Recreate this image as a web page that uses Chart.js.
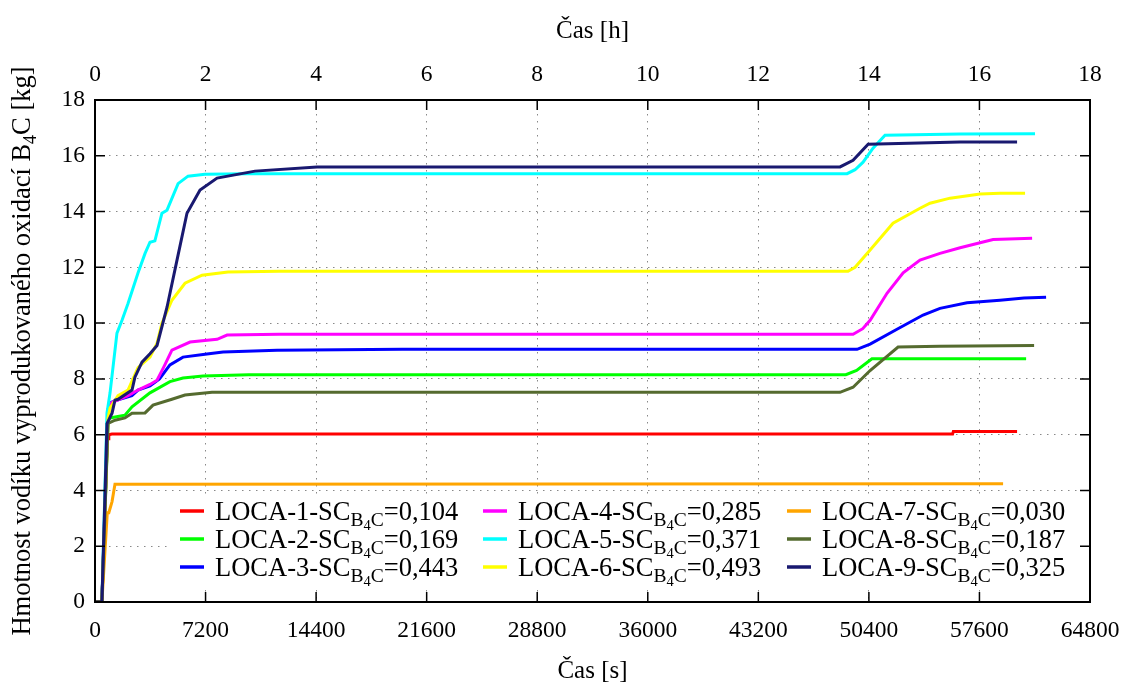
<!DOCTYPE html>
<html lang="cs">
<head>
<meta charset="UTF-8">
<title>Hmotnost vodíku - LOCA</title>
<script src="https://cdn.jsdelivr.net/npm/chart.js@4.4.1/dist/chart.umd.min.js"></script>
<style>
  html, body { margin: 0; padding: 0; background: #fff; }
  #wrap { width: 1127px; height: 686px; }
</style>
</head>
<body>
<div id="wrap"><canvas id="chart" width="1127" height="686"></canvas></div>
<script>
// series labels and SC(B4C) values for the legend
const seriesNames = ['LOCA-1', 'LOCA-2', 'LOCA-3', 'LOCA-4', 'LOCA-5', 'LOCA-6', 'LOCA-7', 'LOCA-8', 'LOCA-9'];
const scValues = ['0,104', '0,169', '0,443', '0,285', '0,371', '0,493', '0,030', '0,187', '0,325'];
const colors = ['#ff0000', '#00ff00', '#0000ff', '#ff00ff', '#00ffff', '#ffff00', '#ffa500', '#556b2f', '#191970'];

// time [s] / mass [kg]
const t1 = [0, 450, 800, 850, 900, 1100, 55850, 55900, 60050];
const m1 = [0, 0, 5.8, 5.85, 6.0, 6.02, 6.02, 6.11, 6.11];

const t2 = [0, 450, 850, 980, 1950, 2410, 3580, 4880, 5730, 7030, 10000, 48900, 49600, 50600, 60640];
const m2 = [0, 0, 6.5, 6.6, 6.7, 7.0, 7.5, 7.9, 8.03, 8.1, 8.15, 8.15, 8.3, 8.72, 8.72];

const t3 = [0, 450, 850, 1000, 1500, 2400, 2800, 3580, 4200, 4880, 5730, 7290, 8340, 11850, 20000, 49630, 50480, 52230, 53930, 55030, 56790, 58940, 60500, 61940];
const m3 = [0, 0, 6.9, 7.15, 7.25, 7.4, 7.6, 7.75, 8.0, 8.5, 8.78, 8.89, 8.96, 9.03, 9.06, 9.06, 9.25, 9.78, 10.29, 10.53, 10.73, 10.82, 10.9, 10.93];

const t4 = [0, 450, 850, 1000, 1500, 2150, 2800, 3580, 4040, 4500, 5010, 6190, 7950, 8600, 12000, 49370, 50000, 50480, 51580, 52630, 53730, 55030, 56340, 57640, 58490, 61030];
const m4 = [0, 0, 6.9, 7.13, 7.25, 7.4, 7.6, 7.8, 7.95, 8.45, 9.03, 9.32, 9.42, 9.57, 9.6, 9.6, 9.8, 10.1, 11.07, 11.8, 12.26, 12.5, 12.7, 12.88, 13.0, 13.04];

const t5 = [0, 450, 780, 980, 1430, 1760, 2150, 2800, 3260, 3580, 3900, 4360, 4690, 5410, 6060, 7160, 10000, 48980, 49500, 50020, 50670, 51450, 56340, 61220];
const m5 = [0, 0, 6.77, 7.5, 9.64, 10.1, 10.7, 11.8, 12.5, 12.9, 12.95, 13.94, 14.05, 15.0, 15.27, 15.34, 15.36, 15.36, 15.5, 15.77, 16.27, 16.74, 16.78, 16.79];

const t6 = [0, 450, 850, 980, 1500, 2150, 2800, 3580, 4040, 4360, 5010, 5860, 6970, 8660, 12000, 49040, 49500, 50480, 51970, 53730, 54380, 55690, 57640, 58940, 60570];
const m6 = [0, 0, 6.6, 6.95, 7.4, 7.6, 8.4, 8.78, 9.28, 10.0, 10.82, 11.43, 11.72, 11.83, 11.86, 11.86, 12.0, 12.62, 13.58, 14.12, 14.3, 14.48, 14.63, 14.66, 14.66];

const t7 = [0, 450, 800, 900, 1110, 1300, 59140];
const m7 = [0, 0, 3.2, 3.2, 3.6, 4.22, 4.24];

const t8 = [0, 450, 850, 1300, 1950, 2410, 3260, 3780, 5010, 5860, 7620, 20000, 48520, 49370, 50480, 52300, 55000, 61160];
const m8 = [0, 0, 6.4, 6.52, 6.6, 6.77, 6.78, 7.06, 7.27, 7.42, 7.52, 7.52, 7.52, 7.7, 8.3, 9.14, 9.17, 9.2];

const t9 = [0, 450, 780, 1110, 1300, 1500, 2410, 2600, 3060, 3580, 4040, 4690, 5340, 5990, 6840, 7950, 10420, 14460, 48520, 49370, 50350, 56340, 60050];
const m9 = [0, 0, 6.4, 6.77, 7.24, 7.27, 7.6, 8.06, 8.6, 8.9, 9.2, 10.57, 12.26, 13.94, 14.77, 15.2, 15.45, 15.6, 15.6, 15.84, 16.41, 16.49, 16.49];

const times = [t1, t2, t3, t4, t5, t6, t7, t8, t9];
const masses = [m1, m2, m3, m4, m5, m6, m7, m8, m9];

const FONT = "'Liberation Serif', 'DejaVu Serif', serif";

const datasets = seriesNames.map((name, i) => ({
    label: name,
    data: times[i].map((t, k) => ({ x: t, y: masses[i][k] })),
    borderColor: colors[i],
    backgroundColor: colors[i],
    borderWidth: 3,
    pointRadius: 0,
    tension: 0,
    fill: false,
    order: 9 - i
}));

// draws a run of text pieces (with sub/subsub scripts) starting at x, baseline y
function drawRuns(ctx, runs, x, y) {
    runs.forEach(r => {
        ctx.font = r.size + 'px ' + FONT;
        ctx.fillText(r.text, x, y + (r.dy || 0));
        x += ctx.measureText(r.text).width;
    });
    return x;
}
function runsWidth(ctx, runs) {
    let w = 0;
    runs.forEach(r => { ctx.font = r.size + 'px ' + FONT; w += ctx.measureText(r.text).width; });
    return w;
}

const framePlugin = {
    id: 'frame',
    afterDraw(chart) {
        const ctx = chart.ctx;
        const a = chart.chartArea;
        const sx = chart.scales.x, sy = chart.scales.y, sh = chart.scales.x2;
        ctx.save();
        ctx.strokeStyle = '#000';
        ctx.lineWidth = 1.5;
        // inner tick marks
        ctx.beginPath();
        sy.ticks.forEach(t => {
            const y = sy.getPixelForValue(t.value);
            ctx.moveTo(a.left, y); ctx.lineTo(a.left + 10, y);
            ctx.moveTo(a.right, y); ctx.lineTo(a.right - 10, y);
        });
        sx.ticks.forEach(t => {
            const x = sx.getPixelForValue(t.value);
            ctx.moveTo(x, a.bottom); ctx.lineTo(x, a.bottom - 10);
        });
        sh.ticks.forEach(t => {
            const x = sh.getPixelForValue(t.value);
            ctx.moveTo(x, a.top); ctx.lineTo(x, a.top + 10);
        });
        ctx.stroke();
        ctx.lineWidth = 2;
        ctx.strokeRect(a.left, a.top, a.right - a.left, a.bottom - a.top);

        // legend, 3 columns x 3 rows
        ctx.fillStyle = '#fff';
        ctx.fillRect(168, 495, 910, 92);
        const colX = [180, 483, 787];
        const rowY = [511, 539, 567];
        ctx.textBaseline = 'alphabetic';
        ctx.textAlign = 'left';
        seriesNames.forEach((name, i) => {
            const c = Math.floor(i / 3), r = i % 3;
            const x = colX[c], y = rowY[r];
            ctx.strokeStyle = colors[i];
            ctx.lineWidth = 3.5;
            ctx.beginPath();
            ctx.moveTo(x, y); ctx.lineTo(x + 24, y);
            ctx.stroke();
            ctx.fillStyle = '#000';
            drawRuns(ctx, [
                { text: name + '-SC', size: 26.5 },
                { text: 'B', size: 19.5, dy: 6 },
                { text: '4', size: 14.5, dy: 10 },
                { text: 'C', size: 19.5, dy: 6 },
                { text: '=' + scValues[i], size: 26.5 }
            ], x + 35, y + 9);
        });

        // y axis title with subscript
        const yRuns = [
            { text: 'Hmotnost vodíku vyprodukovaného oxidací B', size: 26.5 },
            { text: '4', size: 18, dy: 6 },
            { text: 'C [kg]', size: 26.5 }
        ];
        const w = runsWidth(ctx, yRuns);
        ctx.translate(30, (a.top + a.bottom) / 2 + w / 2);
        ctx.rotate(-Math.PI / 2);
        ctx.fillStyle = '#000';
        drawRuns(ctx, yRuns, 0, 0);
        ctx.restore();
    }
};

const tickFont = { family: FONT, size: 23.5 };
const titleFont = { family: FONT, size: 25 };
const plain = v => String(v);

new Chart(document.getElementById('chart'), {
    type: 'line',
    data: { datasets },
    options: {
        responsive: false,
        animation: false,
        layout: { padding: { left: 0, right: 37, top: 0, bottom: 0 } },
        plugins: { legend: { display: false }, tooltip: { enabled: false } },
        scales: {
            x: {
                type: 'linear',
                position: 'bottom',
                min: 0, max: 64800,
                ticks: { stepSize: 7200, color: '#000', font: tickFont, padding: 15, maxRotation: 0, autoSkip: false, callback: plain },
                grid: { color: '#888', lineWidth: 1, drawTicks: false },
                border: { display: false, dash: [1.5, 5.5] },
                title: { display: true, text: 'Čas [s]', color: '#000', font: titleFont, padding: { top: 0, bottom: 0 } },
                afterFit: s => { s.height = 84; s.paddingLeft = 0; s.paddingRight = 0; }
            },
            x2: {
                type: 'linear',
                position: 'top',
                min: 0, max: 18,
                ticks: { stepSize: 2, color: '#000', font: tickFont, padding: 11, maxRotation: 0, autoSkip: false, callback: plain },
                grid: { drawOnChartArea: false, drawTicks: false },
                border: { display: false },
                title: { display: true, text: 'Čas [h]', color: '#000', font: titleFont, padding: { top: 16, bottom: 0 } },
                afterFit: s => { s.height = 100; s.paddingLeft = 0; s.paddingRight = 0; }
            },
            y: {
                type: 'linear',
                min: 0, max: 18,
                ticks: { stepSize: 2, color: '#000', font: tickFont, padding: 10, callback: plain },
                grid: { color: '#888', lineWidth: 1, drawTicks: false },
                border: { display: false, dash: [1.5, 5.5] },
                afterFit: s => { s.width = 95; s.paddingTop = 0; s.paddingBottom = 0; }
            }
        }
    },
    plugins: [framePlugin]
});
</script>
</body>
</html>
